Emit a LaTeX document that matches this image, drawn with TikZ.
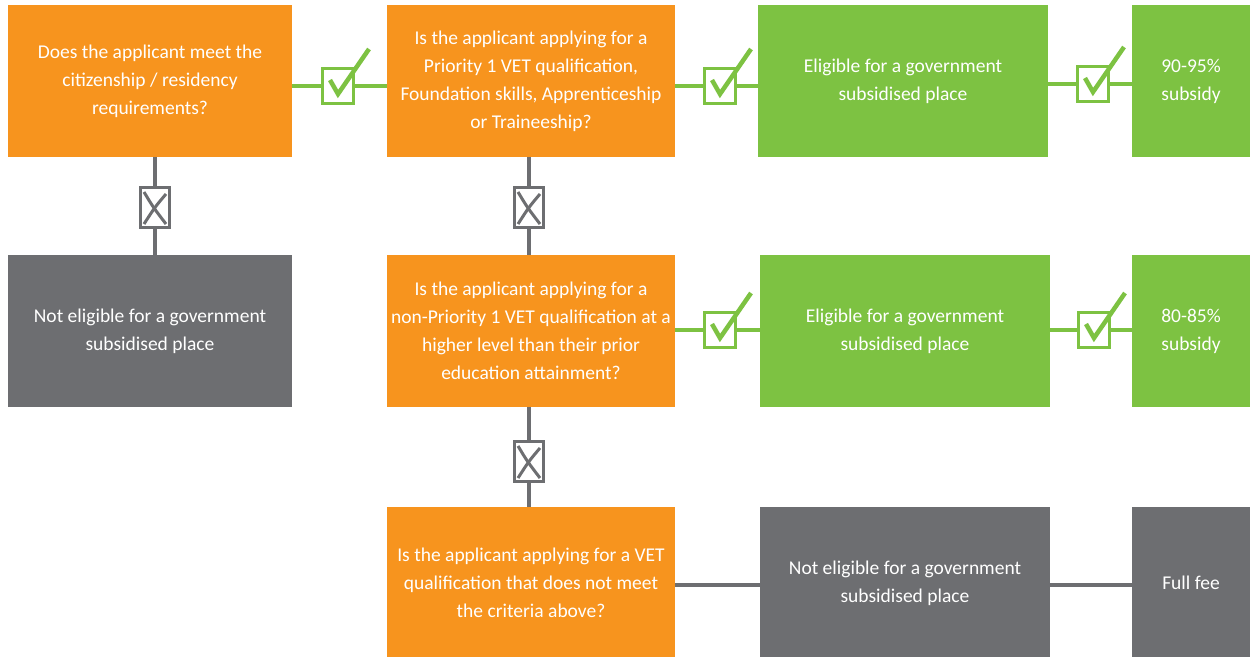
\documentclass[tikz,border=0pt]{standalone}
\usepackage{fontspec}
\setmainfont{Carlito}
\usetikzlibrary{calc}
\definecolor{org}{HTML}{F7941E}
\definecolor{grn}{HTML}{7DC242}
\definecolor{gry}{HTML}{6D6E71}
\begin{document}
\begin{tikzpicture}[x=1pt,y=-1pt,
 box/.style={rectangle, inner sep=0, text=white, align=center, font=\fontsize{19.5}{28}\selectfont},
 obox/.style={box, fill=org},
 gbox/.style={box, fill=grn},
 dbox/.style={box, fill=gry},
 chk/.style={draw=grn, line width=3.5pt, fill=white, minimum width=31pt, minimum height=35pt, inner sep=0},
 xb/.style={draw=gry, line width=3pt, fill=white, minimum width=29pt, minimum height=40pt, inner sep=0},
 gl/.style={draw=grn, line width=4pt},
 dl/.style={draw=gry, line width=4pt},
 tick/.style={draw=grn, line width=4.5pt, line join=miter},
 cross/.style={draw=gry, line width=3pt}]
\path[use as bounding box, clip] (0,0) rectangle (1250,656);
\fill[white] (0,0) rectangle (1250,656);
% row 1
\node[obox, minimum width=284pt, minimum height=152pt] (A) at (150,81) {Does the applicant meet the\\citizenship / residency\\requirements?};
\node[obox, minimum width=288pt, minimum height=152pt] (B) at (531,81) {Is the applicant applying for a\\Priority 1 VET qualification,\\Foundation skills, Apprenticeship\\or Traineeship?};
\node[gbox, minimum width=290pt, minimum height=152pt] (C) at (903,81) {Eligible for a government\\subsidised place};
\node[gbox, minimum width=118pt, minimum height=152pt] (D) at (1191,81) {90-95\%\\subsidy};
% row 2
\node[dbox, minimum width=284pt, minimum height=152pt] (A2) at (150,331) {Not eligible for a government\\subsidised place};
\node[obox, minimum width=288pt, minimum height=152pt] (B2) at (531,331) {Is the applicant applying for a\\non-Priority 1 VET qualification at a\\higher level than their prior\\education attainment?};
\node[gbox, minimum width=290pt, minimum height=152pt] (C2) at (905,331) {Eligible for a government\\subsidised place};
\node[gbox, minimum width=118pt, minimum height=152pt] (D2) at (1191,331) {80-85\%\\subsidy};
% row 3
\node[obox, minimum width=288pt, minimum height=152pt] (B3) at (531,583) {Is the applicant applying for a VET\\qualification that does not meet\\the criteria above?};
\node[dbox, minimum width=290pt, minimum height=152pt] (C3) at (905,583) {Not eligible for a government\\subsidised place};
\node[dbox, minimum width=118pt, minimum height=152pt] (D3) at (1191,583) {Full fee};
% icons
\node[chk] (k1) at (338,86) {};
\node[chk] (k2) at (720,86) {};
\node[chk] (k3) at (1093,84) {};
\node[chk] (k4) at (720,330) {};
\node[chk] (k5) at (1094,330) {};
\node[xb] (x1) at (155,207) {};
\node[xb] (x2) at (529,207) {};
\node[xb] (x3) at (529,461) {};
% connectors
\draw[gl] (k1.west) -- (k1.west -| A.east);
\draw[gl] (k1.east) -- (k1.east -| B.west);
\draw[gl] (k2.west) -- (k2.west -| B.east);
\draw[gl] (k2.east) -- (k2.east -| C.west);
\draw[gl] (k3.west) -- (k3.west -| C.east);
\draw[gl] (k3.east) -- (k3.east -| D.west);
\draw[gl] (k4.west) -- (k4.west -| B2.east);
\draw[gl] (k4.east) -- (k4.east -| C2.west);
\draw[gl] (k5.west) -- (k5.west -| C2.east);
\draw[gl] (k5.east) -- (k5.east -| D2.west);
\draw[dl] (x1.north) -- (x1.north |- A.south);
\draw[dl] (x1.south) -- (x1.south |- A2.north);
\draw[dl] (x2.north) -- (x2.north |- B.south);
\draw[dl] (x2.south) -- (x2.south |- B2.north);
\draw[dl] (x3.north) -- (x3.north |- B2.south);
\draw[dl] (x3.south) -- (x3.south |- B3.north);
\draw[dl] ($(B3.east)+(0,2)$) -- ($(C3.west)+(0,2)$);
\draw[dl] ($(C3.east)+(0,2)$) -- ($(D3.west)+(0,2)$);
% tick marks
\foreach \k in {k1,k2,k3,k4,k5}{
  \draw[tick] ($(\k.center)+(-8,-6)$) -- ($(\k.center)+(0,8)$) -- ($(\k.center)+(31,-37)$);
}
% crosses
\foreach \x in {x1,x2,x3}{
  \draw[cross] ($(\x.center)+(-11,-15)$) .. controls ($(\x.center)+(-2,0)$) .. ($(\x.center)+(11,17)$);
  \draw[cross] ($(\x.center)+(11,-13)$) .. controls ($(\x.center)+(0,0)$) .. ($(\x.center)+(-11,17)$);
}
\end{tikzpicture}
\end{document}
